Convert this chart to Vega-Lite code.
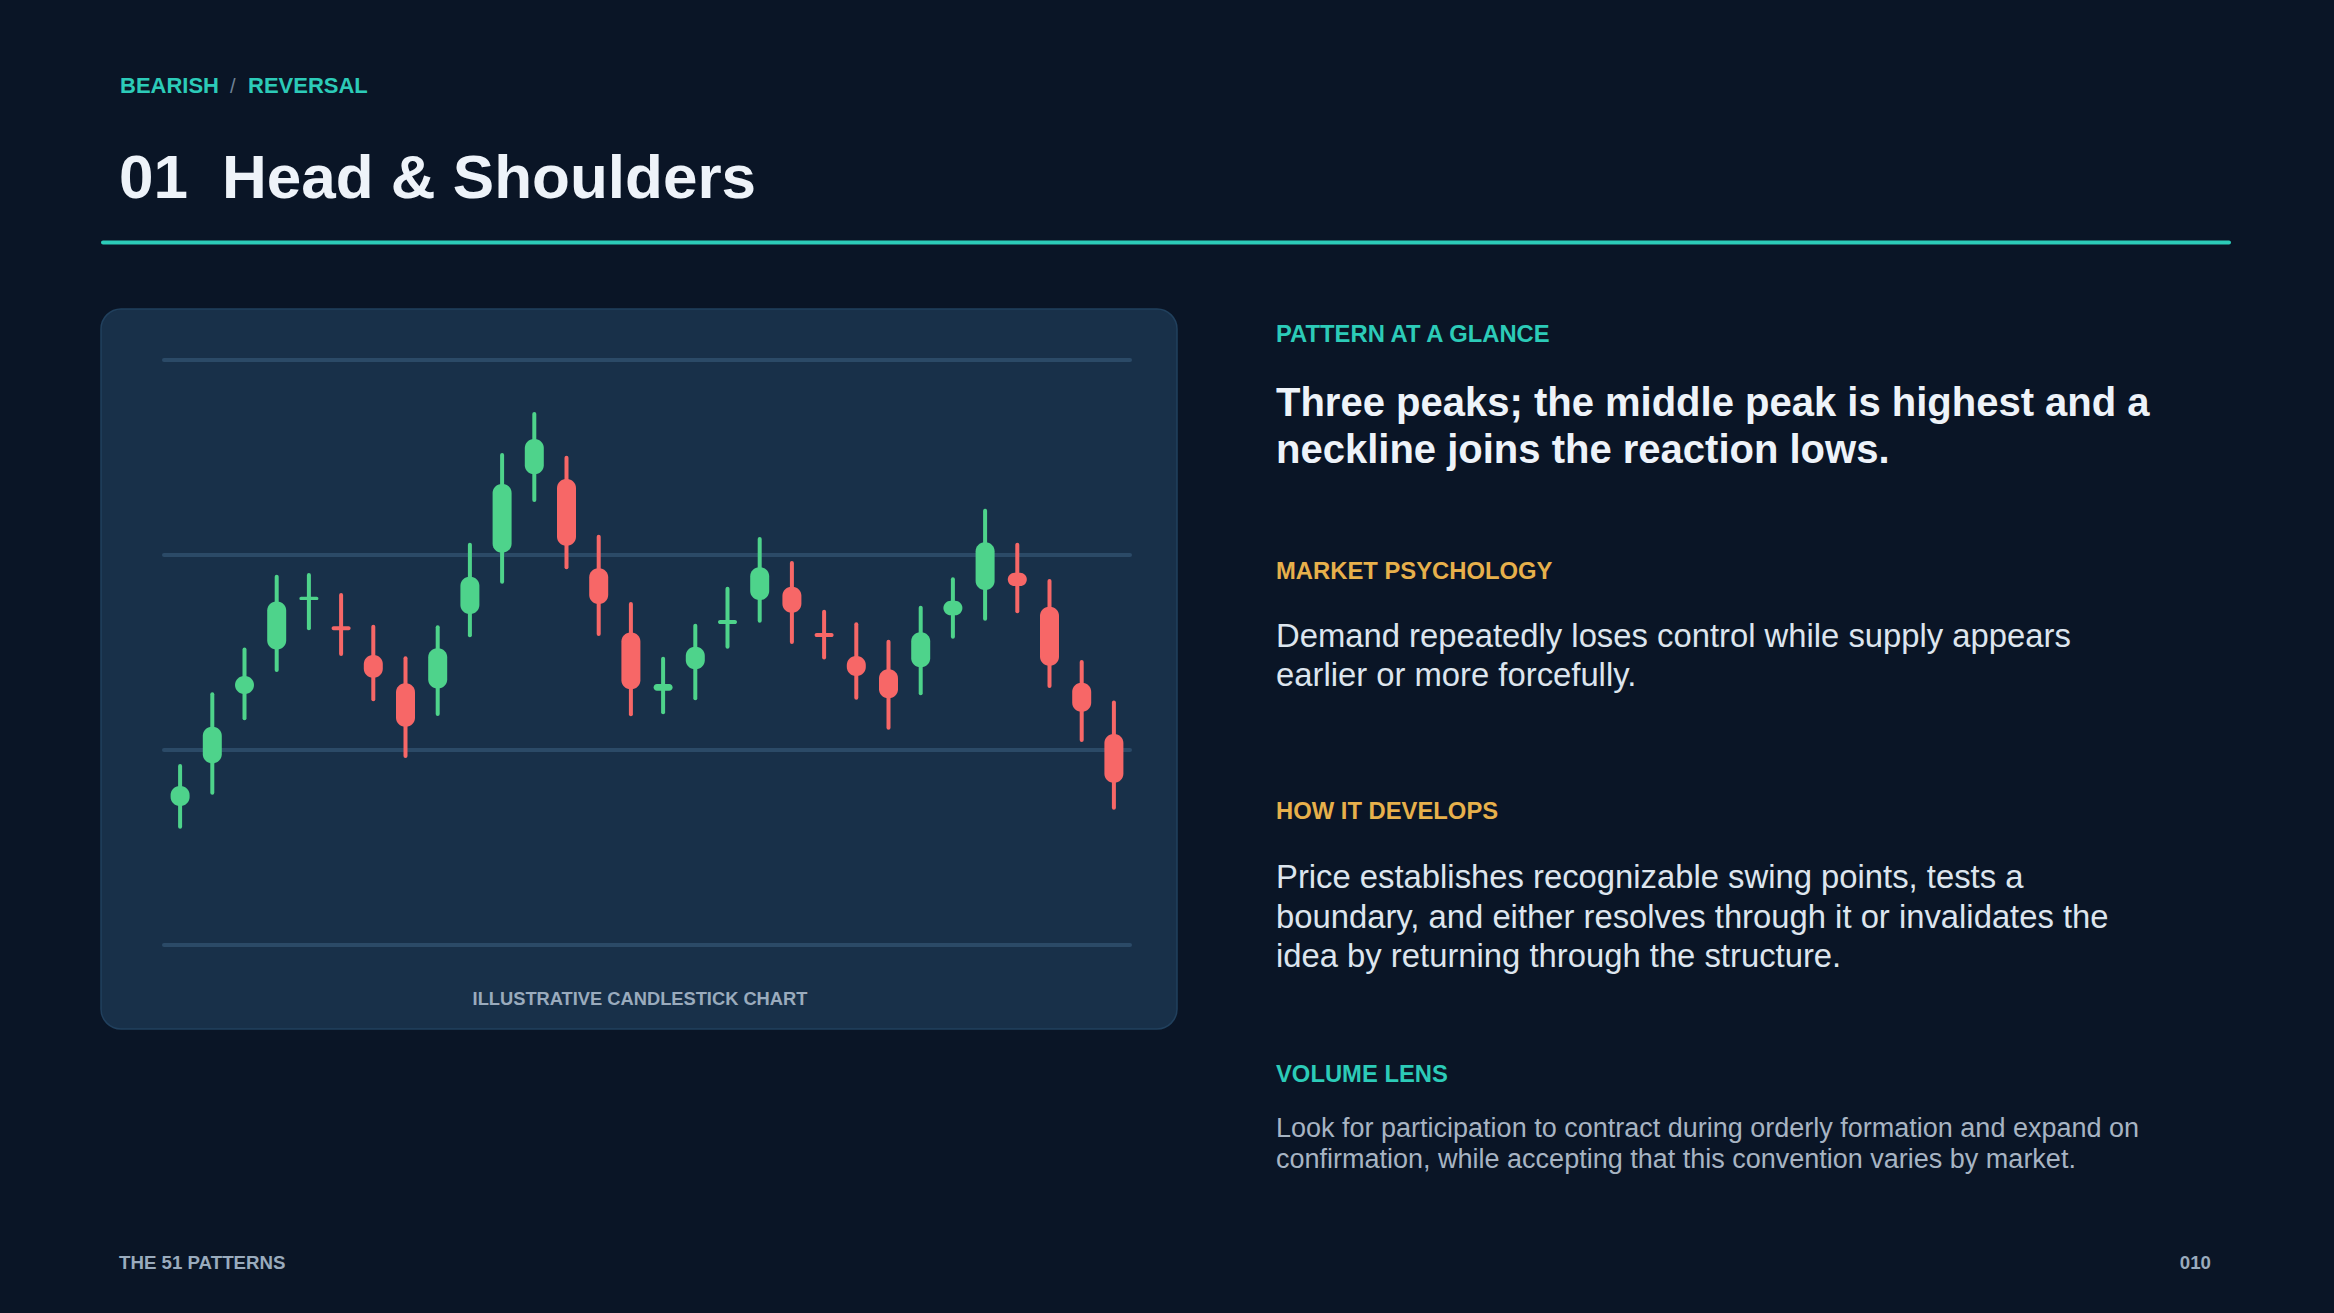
{
  "$schema": "https://vega.github.io/schema/vega-lite/v6.json",
  "width": 966,
  "height": 585,
  "autosize": {"type": "none"},
  "padding": {"left": 164, "top": 360, "right": 1204, "bottom": 368},
  "background": "#0a1526",
  "config": {"view": {"stroke": null}, "font": "Liberation Sans"},
  "datasets": {
    "candles": [
      {"i": 1, "open": 97.13, "high": 99.18, "low": 96.07, "close": 98.15},
      {"i": 2, "open": 99.32, "high": 102.86, "low": 97.81, "close": 101.19},
      {"i": 3, "open": 102.87, "high": 105.16, "low": 101.63, "close": 103.79},
      {"i": 4, "open": 105.16, "high": 108.89, "low": 104.10, "close": 107.61},
      {"i": 5, "open": 107.69, "high": 108.97, "low": 106.24, "close": 107.86},
      {"i": 6, "open": 106.34, "high": 107.95, "low": 104.92, "close": 106.14},
      {"i": 7, "open": 104.87, "high": 106.32, "low": 102.60, "close": 103.71},
      {"i": 8, "open": 103.42, "high": 104.70, "low": 99.69, "close": 101.19},
      {"i": 9, "open": 103.16, "high": 106.29, "low": 101.85, "close": 105.22},
      {"i": 10, "open": 106.97, "high": 110.53, "low": 105.88, "close": 108.89},
      {"i": 11, "open": 110.12, "high": 115.13, "low": 108.63, "close": 113.64},
      {"i": 12, "open": 114.14, "high": 117.23, "low": 112.82, "close": 115.95},
      {"i": 13, "open": 113.90, "high": 114.99, "low": 109.37, "close": 110.48},
      {"i": 14, "open": 109.32, "high": 110.94, "low": 105.95, "close": 107.49},
      {"i": 15, "open": 106.02, "high": 107.49, "low": 101.83, "close": 103.11},
      {"i": 16, "open": 103.04, "high": 104.68, "low": 101.93, "close": 103.38},
      {"i": 17, "open": 104.14, "high": 106.37, "low": 102.65, "close": 105.30},
      {"i": 18, "open": 106.46, "high": 108.27, "low": 105.30, "close": 106.67},
      {"i": 19, "open": 107.69, "high": 110.82, "low": 106.63, "close": 109.37},
      {"i": 20, "open": 108.37, "high": 109.59, "low": 105.54, "close": 107.04},
      {"i": 21, "open": 106.00, "high": 107.09, "low": 104.75, "close": 105.79},
      {"i": 22, "open": 104.82, "high": 106.45, "low": 102.68, "close": 103.79},
      {"i": 23, "open": 104.14, "high": 105.55, "low": 101.14, "close": 102.65},
      {"i": 24, "open": 104.24, "high": 107.30, "low": 102.91, "close": 106.04},
      {"i": 25, "open": 106.91, "high": 108.75, "low": 105.81, "close": 107.66},
      {"i": 26, "open": 108.21, "high": 112.27, "low": 106.73, "close": 110.65},
      {"i": 27, "open": 109.09, "high": 110.53, "low": 107.11, "close": 108.41},
      {"i": 28, "open": 107.35, "high": 108.67, "low": 103.28, "close": 104.32},
      {"i": 29, "open": 103.45, "high": 104.51, "low": 100.51, "close": 101.96},
      {"i": 30, "open": 100.82, "high": 102.43, "low": 97.04, "close": 98.32}
    ],
    "grid": [{"g": 90}, {"g": 100}, {"g": 110}, {"g": 120}],
    "one": [{}]
  },
  "layer": [
    {
      "data": {"name": "one"},
      "mark": {"type": "rect", "x": -63, "x2": 1013, "y": -51, "y2": 669, "cornerRadius": 20, "fill": "#183049", "stroke": "#21405d", "strokeWidth": 1.5, "clip": false}
    },
    {
      "data": {"name": "one"},
      "mark": {"type": "rect", "x": -63, "x2": 2067, "y": -119.5, "y2": -115.5, "cornerRadius": 2, "fill": "#2ccbb8", "clip": false}
    },
    {
      "data": {"name": "grid"},
      "mark": {"type": "rule", "color": "#2b4a67", "strokeWidth": 4, "strokeCap": "round"},
      "encoding": {
        "y": {"field": "g", "type": "quantitative", "scale": {"domain": [90, 120], "nice": false, "zero": false}, "axis": null}
      }
    },
    {
      "data": {"name": "candles"},
      "mark": {"type": "rule", "strokeWidth": 4, "strokeCap": "round"},
      "encoding": {
        "x": {"field": "i", "type": "quantitative", "scale": {"domain": [0.5, 30.5], "nice": false, "zero": false, "padding": 0}, "axis": null},
        "y": {"field": "low", "type": "quantitative", "scale": {"domain": [90, 120], "nice": false, "zero": false}, "axis": null},
        "y2": {"field": "high"},
        "color": {"condition": {"test": "datum.close >= datum.open", "value": "#4ed38b"}, "value": "#f76767"}
      }
    },
    {
      "data": {"name": "candles"},
      "mark": {"type": "bar", "size": 19, "cornerRadius": 9},
      "encoding": {
        "x": {"field": "i", "type": "quantitative", "scale": {"domain": [0.5, 30.5], "nice": false, "zero": false, "padding": 0}, "axis": null},
        "y": {"field": "open", "type": "quantitative", "scale": {"domain": [90, 120], "nice": false, "zero": false}, "axis": null},
        "y2": {"field": "close"},
        "color": {"condition": {"test": "datum.close >= datum.open", "value": "#4ed38b"}, "value": "#f76767"}
      }
    },
    {
      "data": {"name": "one"},
      "mark": {"type": "text", "text": "ILLUSTRATIVE CANDLESTICK CHART", "x": 476, "y": 644.7, "align": "center", "baseline": "alphabetic", "font": "Liberation Sans", "fontSize": 18.3, "fontWeight": "bold", "fill": "#9aabbd"}
    },
    {
      "data": {"name": "one"},
      "mark": {"type": "text", "text": "BEARISH", "x": -44, "y": -267, "align": "left", "baseline": "alphabetic", "font": "Liberation Sans", "fontSize": 22, "fontWeight": "bold", "fill": "#2ccbb8"}
    },
    {
      "data": {"name": "one"},
      "mark": {"type": "text", "text": "/", "x": 66, "y": -267, "align": "left", "baseline": "alphabetic", "font": "Liberation Sans", "fontSize": 20, "fill": "#6f8296"}
    },
    {
      "data": {"name": "one"},
      "mark": {"type": "text", "text": "REVERSAL", "x": 84, "y": -267, "align": "left", "baseline": "alphabetic", "font": "Liberation Sans", "fontSize": 22, "fontWeight": "bold", "fill": "#2ccbb8"}
    },
    {
      "data": {"name": "one"},
      "mark": {"type": "text", "text": "01", "x": -45, "y": -162, "align": "left", "baseline": "alphabetic", "font": "Liberation Sans", "fontSize": 62, "fontWeight": "bold", "fill": "#eef3f9"}
    },
    {
      "data": {"name": "one"},
      "mark": {"type": "text", "text": "Head & Shoulders", "x": 58, "y": -162, "align": "left", "baseline": "alphabetic", "font": "Liberation Sans", "fontSize": 62, "fontWeight": "bold", "fill": "#eef3f9"}
    },
    {
      "data": {"name": "one"},
      "mark": {"type": "text", "text": "PATTERN AT A GLANCE", "x": 1112, "y": -18, "align": "left", "baseline": "alphabetic", "font": "Liberation Sans", "fontSize": 23.8, "fontWeight": "bold", "fill": "#2ccbb8"}
    },
    {
      "data": {"name": "one"},
      "mark": {"type": "text", "text": ["Three peaks; the middle peak is highest and a", "neckline joins the reaction lows."], "x": 1112, "y": 55.7, "lineHeight": 47.6, "align": "left", "baseline": "alphabetic", "font": "Liberation Sans", "fontSize": 40, "fontWeight": "bold", "fill": "#eef3f9"}
    },
    {
      "data": {"name": "one"},
      "mark": {"type": "text", "text": "MARKET PSYCHOLOGY", "x": 1112, "y": 219, "align": "left", "baseline": "alphabetic", "font": "Liberation Sans", "fontSize": 23.8, "fontWeight": "bold", "fill": "#e7b04b"}
    },
    {
      "data": {"name": "one"},
      "mark": {"type": "text", "text": ["Demand repeatedly loses control while supply appears", "earlier or more forcefully."], "x": 1112, "y": 287, "lineHeight": 39.3, "align": "left", "baseline": "alphabetic", "font": "Liberation Sans", "fontSize": 32.8, "fill": "#dde5ee"}
    },
    {
      "data": {"name": "one"},
      "mark": {"type": "text", "text": "HOW IT DEVELOPS", "x": 1112, "y": 459, "align": "left", "baseline": "alphabetic", "font": "Liberation Sans", "fontSize": 23.8, "fontWeight": "bold", "fill": "#e7b04b"}
    },
    {
      "data": {"name": "one"},
      "mark": {"type": "text", "text": ["Price establishes recognizable swing points, tests a", "boundary, and either resolves through it or invalidates the", "idea by returning through the structure."], "x": 1112, "y": 528.3, "lineHeight": 39.3, "align": "left", "baseline": "alphabetic", "font": "Liberation Sans", "fontSize": 32.8, "fill": "#dde5ee"}
    },
    {
      "data": {"name": "one"},
      "mark": {"type": "text", "text": "VOLUME LENS", "x": 1112, "y": 722, "align": "left", "baseline": "alphabetic", "font": "Liberation Sans", "fontSize": 23.8, "fontWeight": "bold", "fill": "#2ccbb8"}
    },
    {
      "data": {"name": "one"},
      "mark": {"type": "text", "text": ["Look for participation to contract during orderly formation and expand on", "confirmation, while accepting that this convention varies by market."], "x": 1112, "y": 776.7, "lineHeight": 31.6, "align": "left", "baseline": "alphabetic", "font": "Liberation Sans", "fontSize": 27, "fill": "#a7b4c3"}
    },
    {
      "data": {"name": "one"},
      "mark": {"type": "text", "text": "THE 51 PATTERNS", "x": -45, "y": 909, "align": "left", "baseline": "alphabetic", "font": "Liberation Sans", "fontSize": 18.7, "fontWeight": "bold", "fill": "#9aabbd"}
    },
    {
      "data": {"name": "one"},
      "mark": {"type": "text", "text": "010", "x": 2047, "y": 909, "align": "right", "baseline": "alphabetic", "font": "Liberation Sans", "fontSize": 18.7, "fontWeight": "bold", "fill": "#9aabbd"}
    }
  ]
}
